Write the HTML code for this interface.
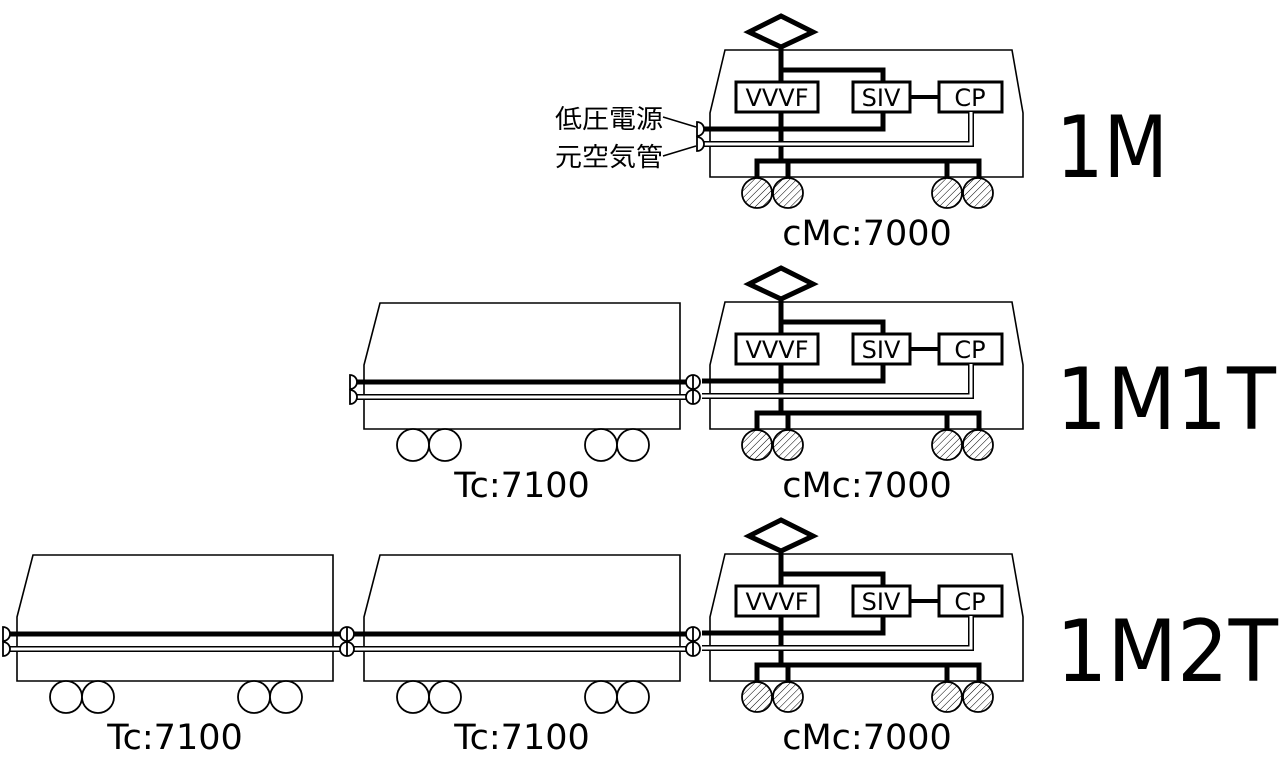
<!DOCTYPE html>
<html><head><meta charset="utf-8"><style>
html,body{margin:0;padding:0;background:#fff;}
svg{display:block}
text{font-family:"DejaVu Sans","Noto Sans CJK JP",sans-serif;fill:#000}
</style></head><body>
<svg width="1280" height="764" viewBox="0 0 1280 764" xmlns="http://www.w3.org/2000/svg">
<defs>
<pattern id="h" width="5" height="5" patternUnits="userSpaceOnUse" patternTransform="rotate(45)">
<rect width="5" height="5" fill="#fff"/><line x1="0" y1="0" x2="0" y2="5" stroke="#000" stroke-width="1"/>
</pattern>
<g id="motor">
<polygon points="710,177 710,113 725,50 1012,50 1023,113 1023,177" fill="none" stroke="#000" stroke-width="1.6"/>
<polygon points="781,16 813,32 781,47 749,32" fill="#fff" stroke="#000" stroke-width="5" stroke-linejoin="miter"/>
<polyline points="781,47 781,161" fill="none" stroke="#000" stroke-width="5"/>
<polyline points="781,70 883,70 883,84" fill="none" stroke="#000" stroke-width="5"/>
<rect x="736" y="82" width="82" height="30" fill="#fff" stroke="#000" stroke-width="3"/>
<rect x="853" y="82" width="57" height="30" fill="#fff" stroke="#000" stroke-width="3"/>
<rect x="939" y="82" width="63" height="30" fill="#fff" stroke="#000" stroke-width="3"/>
<line x1="910" y1="97" x2="939" y2="97" stroke="#000" stroke-width="4"/>
<polyline points="702,129 883,129 883,112" fill="none" stroke="#000" stroke-width="5"/>
<polyline points="702,144 971,144 971,112" fill="none" stroke="#000" stroke-width="6"/>
<polyline points="702,144 971,144 971,112" fill="none" stroke="#fff" stroke-width="3"/>
<polyline points="757,177 757,161 979,161 979,177" fill="none" stroke="#000" stroke-width="5"/>
<line x1="788" y1="161" x2="788" y2="177" stroke="#000" stroke-width="5"/>
<line x1="947" y1="161" x2="947" y2="177" stroke="#000" stroke-width="5"/>
<circle cx="757" cy="193" r="15" fill="url(#h)" stroke="#000" stroke-width="1.8"/>
<circle cx="788" cy="193" r="15" fill="url(#h)" stroke="#000" stroke-width="1.8"/>
<circle cx="947" cy="193" r="15" fill="url(#h)" stroke="#000" stroke-width="1.8"/>
<circle cx="978" cy="193" r="15" fill="url(#h)" stroke="#000" stroke-width="1.8"/>
<g font-size="24" text-anchor="middle">
<text x="777" y="106">VVVF</text><text x="881" y="106">SIV</text><text x="970" y="106">CP</text>
</g>
</g>
<g id="trailer">
<polygon points="17,681 17,617 33,555 333,555 333,681" fill="none" stroke="#000" stroke-width="1.6"/>
<line x1="6" y1="634" x2="342" y2="634" stroke="#000" stroke-width="5"/>
<line x1="6" y1="649" x2="342" y2="649" stroke="#000" stroke-width="6"/>
<line x1="6" y1="649" x2="342" y2="649" stroke="#fff" stroke-width="3"/>
<circle cx="66" cy="697" r="16" fill="#fff" stroke="#000" stroke-width="1.8"/>
<circle cx="98" cy="697" r="16" fill="#fff" stroke="#000" stroke-width="1.8"/>
<circle cx="254" cy="697" r="16" fill="#fff" stroke="#000" stroke-width="1.8"/>
<circle cx="286" cy="697" r="16" fill="#fff" stroke="#000" stroke-width="1.8"/>
</g>
<g id="half">
<path d="M0,-7 A7,7 0 0 1 0,7 Z" fill="#fff" stroke="#000" stroke-width="1.8"/>
</g>
<g id="full">
<circle cx="0" cy="0" r="7" fill="#fff" stroke="#000" stroke-width="1.8"/>
<line x1="0" y1="-7" x2="0" y2="7" stroke="#000" stroke-width="1.8"/>
</g>
</defs>

<!-- Row 1 -->
<use href="#motor"/>
<use href="#half" x="697" y="129"/>
<use href="#half" x="697" y="144"/>
<line x1="663" y1="117" x2="696" y2="127" stroke="#000" stroke-width="1.5"/>
<line x1="663" y1="156" x2="696" y2="146" stroke="#000" stroke-width="1.5"/>
<text x="555" y="128" font-size="26" textLength="108" lengthAdjust="spacingAndGlyphs">低圧電源</text>
<text x="555" y="166" font-size="26" textLength="108" lengthAdjust="spacingAndGlyphs">元空気管</text>
<text x="867" y="245" font-size="35" text-anchor="middle">cMc:7000</text>
<text x="1056" y="177" font-size="86" textLength="112" lengthAdjust="spacingAndGlyphs">1M</text>

<!-- Row 2 -->
<use href="#motor" y="252"/>
<use href="#trailer" x="347" y="-252"/>
<use href="#half" x="350" y="382"/>
<use href="#half" x="350" y="397"/>
<use href="#full" x="693" y="382"/>
<use href="#full" x="693" y="397"/>
<text x="522" y="497" font-size="35" text-anchor="middle">Tc:7100</text>
<text x="867" y="497" font-size="35" text-anchor="middle">cMc:7000</text>
<text x="1056" y="429" font-size="86" textLength="220" lengthAdjust="spacingAndGlyphs">1M1T</text>

<!-- Row 3 -->
<use href="#motor" y="504"/>
<use href="#trailer"/>
<use href="#trailer" x="347"/>
<use href="#half" x="3" y="634"/>
<use href="#half" x="3" y="649"/>
<use href="#full" x="347" y="634"/>
<use href="#full" x="347" y="649"/>
<use href="#full" x="693" y="634"/>
<use href="#full" x="693" y="649"/>
<text x="175" y="749" font-size="35" text-anchor="middle">Tc:7100</text>
<text x="522" y="749" font-size="35" text-anchor="middle">Tc:7100</text>
<text x="867" y="749" font-size="35" text-anchor="middle">cMc:7000</text>
<text x="1056" y="681" font-size="86" textLength="222" lengthAdjust="spacingAndGlyphs">1M2T</text>
</svg>
</body></html>
